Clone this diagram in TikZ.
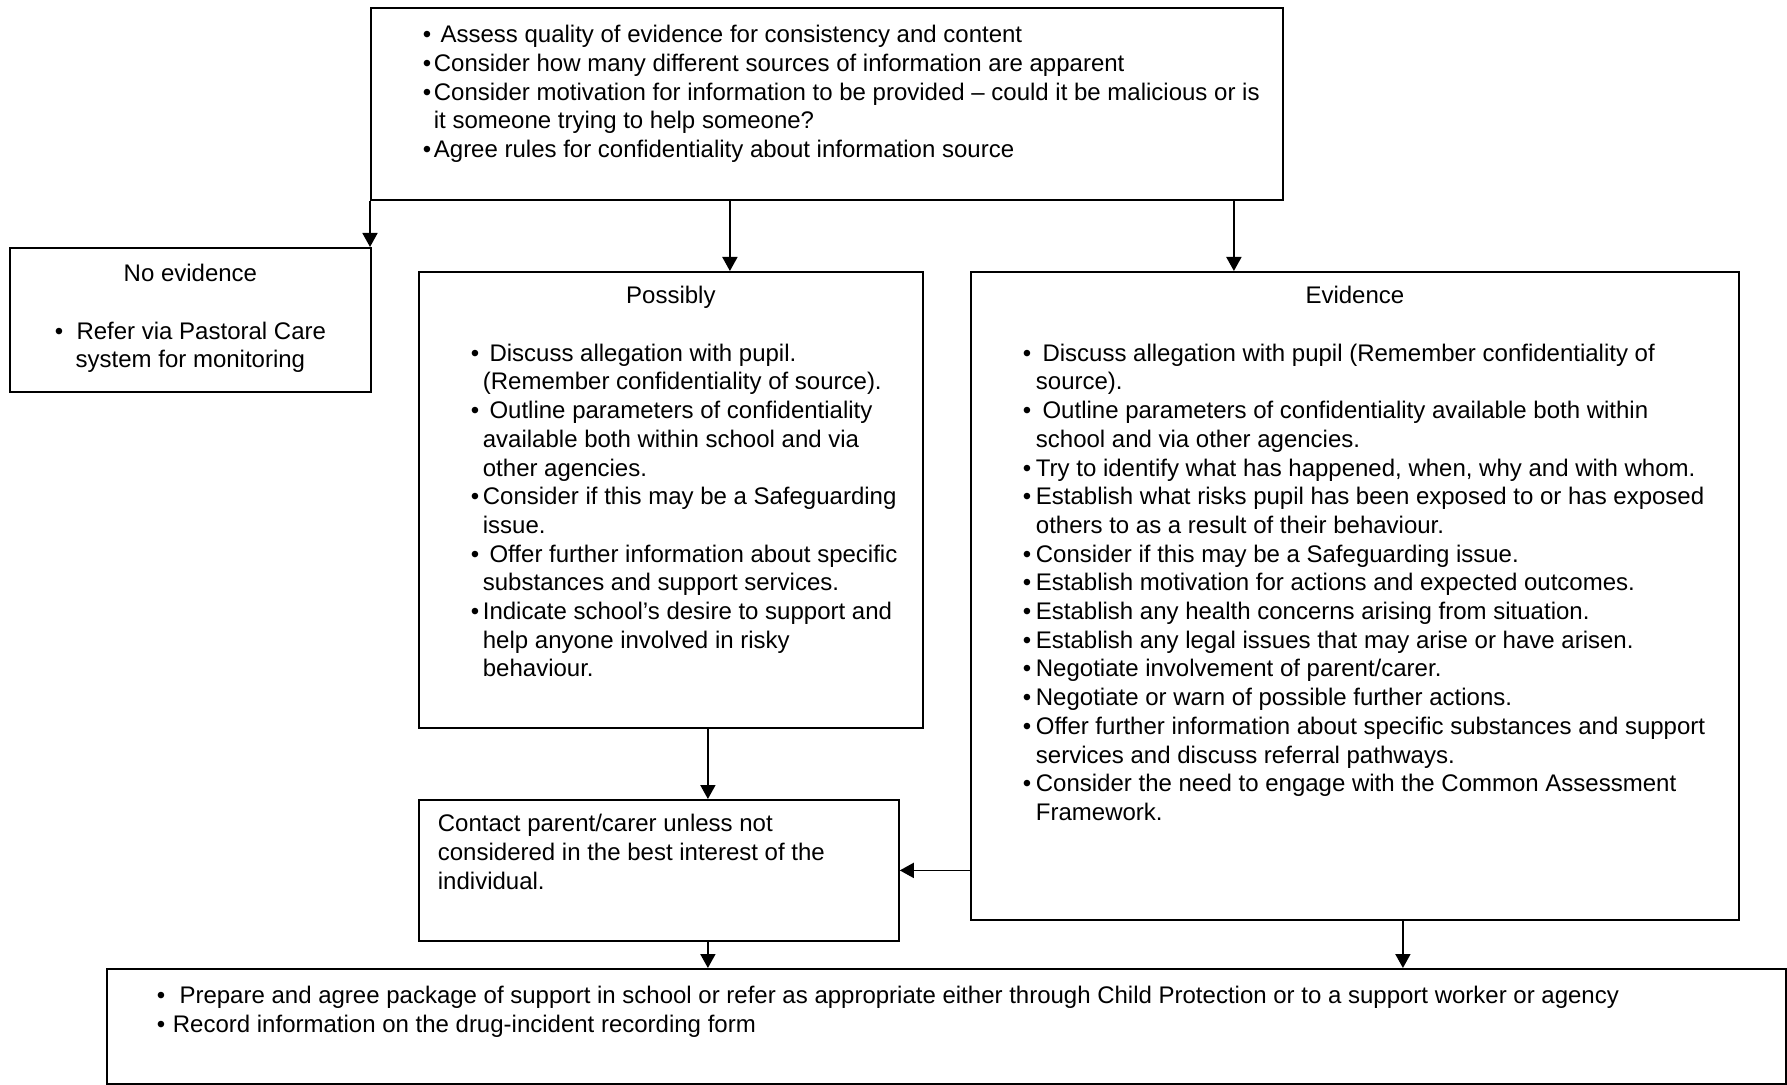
\documentclass[tikz,border=0pt]{standalone}
\usepackage{fontspec}
\setmainfont{Liberation Sans}
\usetikzlibrary{
    arrows.meta,
    positioning,
    calc
}

\newlength{\bhang}
\setlength{\bhang}{6pt}
\newcommand{\bitem}{\par\hangindent=\bhang\hangafter=1\noindent\makebox[\bhang][l]{\textbullet}}
\newcommand{\topstrut}[1][16pt]{\rule{0pt}{#1}}
\newcommand{\panel}[3]{%
  \begin{minipage}[t][#2][t]{#1}%
    \raggedright\leftskip=26pt\relax
    #3%
  \end{minipage}}

\begin{document}
\begin{tikzpicture}[
    panelbox/.style={draw, line width=0.9pt, inner sep=0pt, anchor=north west,
      font=\fontsize{12}{14.35}\selectfont},
    flow/.style={line width=0.9pt, -{Triangle[width=7.5pt,length=7pt]}}
  ]

  \useasboundingbox (0,0) rectangle (893.5pt,-542.5pt);

  % assess {{{
  \node[panelbox] (assess) at (185pt,-3.5pt)
  {\panel{456pt}{96pt}{%
    \setlength{\bhang}{5.5pt}%
    \bitem\topstrut[17.5pt]\ Assess quality of evidence for consistency and content
    \bitem Consider how many different sources of information are apparent
    \bitem Consider motivation for information to be provided -- could it be malicious or is\newline
      it someone trying to help someone?
    \bitem Agree rules for confidentiality about information source\par}};
  % }}}

  % no evidence {{{
  \node[panelbox] (noev) at (4.5pt,-123.5pt)
  {\panel{180.5pt}{72pt}{%
    {\centering\topstrut[17pt]No evidence\par}
    \vspace{\baselineskip}
    {\centering\textbullet\ \ Refer via Pastoral Care\\ system for monitoring\par}}};
  % }}}

  % possibly {{{
  \node[panelbox] (possibly) at (209pt,-135.5pt)
  {\panel{252pt}{228pt}{%
    {\centering\topstrut Possibly\par}
    \vspace{\baselineskip}
    \bitem\ Discuss allegation with pupil.\newline
      (Remember confidentiality of source).
    \bitem\ Outline parameters of confidentiality\newline
      available both within school and via\newline
      other agencies.
    \bitem Consider if this may be a Safeguarding\newline
      issue.
    \bitem\ Offer further information about specific\newline
      substances and support services.
    \bitem Indicate school’s desire to support and\newline
      help anyone involved in risky\newline
      behaviour.\par}};
  % }}}

  % evidence {{{
  \node[panelbox] (evidence) at (485pt,-135.5pt)
  {\panel{384pt}{324pt}{%
    \setlength{\bhang}{6.5pt}%
    {\centering\topstrut Evidence\par}
    \vspace{\baselineskip}
    \bitem\ Discuss allegation with pupil (Remember confidentiality of\newline
      source).
    \bitem\ Outline parameters of confidentiality available both within\newline
      school and via other agencies.
    \bitem Try to identify what has happened, when, why and with whom.
    \bitem Establish what risks pupil has been exposed to or has exposed\newline
      others to as a result of their behaviour.
    \bitem Consider if this may be a Safeguarding issue.
    \bitem Establish motivation for actions and expected outcomes.
    \bitem Establish any health concerns arising from situation.
    \bitem Establish any legal issues that may arise or have arisen.
    \bitem Negotiate involvement of parent/carer.
    \bitem Negotiate or warn of possible further actions.
    \bitem Offer further information about specific substances and support\newline
      services and discuss referral pathways.
    \bitem Consider the need to engage with the Common Assessment\newline
      Framework.\par}};
  % }}}

  % contact {{{
  \node[panelbox] (contact) at (209pt,-399.5pt)
  {\panel{240pt}{70.5pt}{%
    \leftskip=9.5pt\relax
    \noindent\topstrut Contact parent/carer unless not\newline
      considered in the best interest of the\newline
      individual.\par}};
  % }}}

  % support {{{
  \node[panelbox] (support) at (53pt,-484pt)
  {\panel{839.5pt}{57.5pt}{%
    \setlength{\bhang}{8pt}%
    \leftskip=25pt\relax
    \bitem\topstrut[17.5pt]\ Prepare and agree package of support in school or refer as appropriate either through Child Protection or to a support worker or agency
    \bitem Record information on the drug-incident recording form\par}};
  % }}}

  % connectors {{{
  \coordinate (possin) at ([xshift=29.5pt]possibly.north);
  \coordinate (evin) at ([xshift=-60.5pt]evidence.north);
  \coordinate (contin) at ([xshift=24.5pt]contact.north);
  \coordinate (evout) at ([xshift=24pt]evidence.south);

  \draw[flow] (assess.south west) -- (assess.south west |- noev.north);
  \draw[flow] (possin |- assess.south) -- (possin);
  \draw[flow] (evin |- assess.south) -- (evin);
  \draw[flow] (contin |- possibly.south) -- (contin);
  \draw[flow] (contact.east -| evidence.west) -- (contact.east);
  \draw[flow] (contin |- contact.south) -- (contin |- support.north);
  \draw[flow] (evout) -- (evout |- support.north);
  % }}}

\end{tikzpicture}
\end{document}
